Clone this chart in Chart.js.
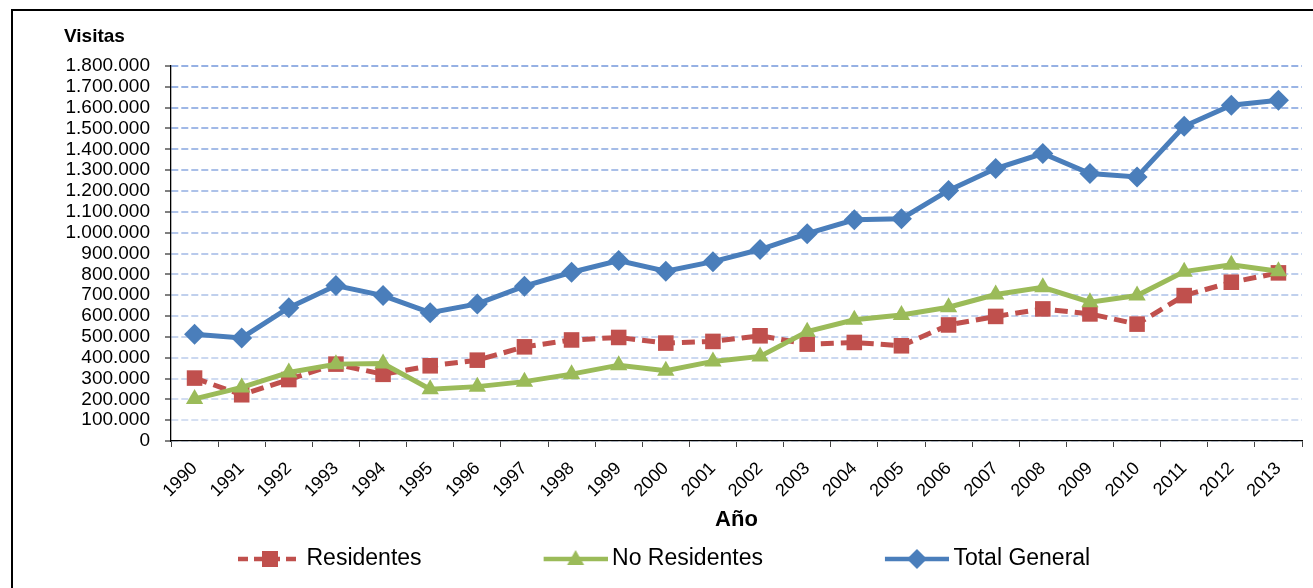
<!DOCTYPE html>
<html>
<head>
<meta charset="utf-8">
<script src="https://cdn.jsdelivr.net/npm/chart.js@4"></script>
<style>
  html, body { margin: 0; padding: 0; background: #fff; }
  #frame {
    position: absolute; left: 11px; top: 9px;
    border-left: 2px solid #000; border-top: 2px solid #000;
    width: 1300px; height: 577px;
  }
  canvas { display: block; }
</style>
</head>
<body>
<div id="frame"><canvas id="chart" width="1300" height="577"></canvas></div>
<script>
const years = ['1990', '1991', '1992', '1993', '1994', '1995', '1996', '1997', '1998', '1999', '2000', '2001',
  '2002', '2003', '2004', '2005', '2006', '2007', '2008', '2009', '2010', '2011', '2012', '2013'];

const residentes = [302000, 222000, 295000, 369000, 320000, 361000, 388000, 452000, 485000, 497000, 470000, 478000,
  505000, 465000, 473000, 457000, 557000, 598000, 634000, 610000, 561000, 698000, 762000, 807000];

const noResidentes = [202000, 257000, 329000, 369000, 372000, 249000, 261000, 285000, 321000, 364000, 337000, 382000,
  406000, 525000, 582000, 605000, 642000, 703000, 738000, 666000, 698000, 813000, 846000, 815000];

const totalGeneral = [512000, 495000, 640000, 746000, 698000, 616000, 658000, 743000, 810000, 866000, 815000, 861000,
  919000, 995000, 1062000, 1067000, 1203000, 1308000, 1380000, 1284000, 1267000, 1511000, 1612000, 1636000];

const yMax = 1800000;
const yStep = 100000;

const RED = '#c0504d';
const GREEN = '#9bbb59';
const BLUE = '#4a7ebb';

// thousands separator with dots
const fmt = v => String(v).replace(/\B(?=(\d{3})+(?!\d))/g, '.');

// gridlines fade from dark blue at the top to pale at the bottom
const gridColor = (ctx) => {
  const t = ctx.tick ? ctx.tick.value / yMax : 0;
  const lo = [218, 227, 243], hi = [150, 177, 228];
  const c = lo.map((l, i) => Math.round(l + (hi[i] - l) * t));
  return 'rgb(' + c.join(',') + ')';
};

// legend sample: line + marker, drawn at the right end of a wide transparent canvas
const legendSample = (color, dash, marker) => {
  const w = 187, h = 26;
  const c = document.createElement('canvas');
  c.width = w; c.height = h;
  const g = c.getContext('2d');
  const x0 = w - 64, x1 = w, cy = h / 2, cx = x0 + 32;
  g.strokeStyle = color;
  g.lineWidth = 4.5;
  g.setLineDash(dash);
  g.beginPath(); g.moveTo(x0, cy); g.lineTo(x1, cy); g.stroke();
  g.setLineDash([]);
  g.fillStyle = color;
  g.beginPath();
  if (marker === 'rect') {
    g.rect(cx - 8, cy - 8, 16, 16);
  } else if (marker === 'triangle') {
    g.moveTo(cx, cy - 9); g.lineTo(cx + 8.5, cy + 6); g.lineTo(cx - 8.5, cy + 6); g.closePath();
  } else {
    g.moveTo(cx, cy - 10); g.lineTo(cx + 10, cy); g.lineTo(cx, cy + 10); g.lineTo(cx - 10, cy); g.closePath();
  }
  g.fill();
  return c;
};

const samples = [
  legendSample(RED, [10, 6], 'rect'),
  legendSample(GREEN, [], 'triangle'),
  legendSample(BLUE, [], 'rectRot')
];

// nudge the legend row to the right, where the original has it
const legendShift = {
  id: 'legendShift',
  afterLayout(chart) {
    chart.legend.left += 52;
    chart.legend.right += 52;
  }
};

Chart.defaults.font.family = '"Liberation Sans", Arial, sans-serif';
Chart.defaults.color = '#000';

new Chart(document.getElementById('chart').getContext('2d'), {
  type: 'line',
  data: {
    labels: years,
    datasets: [{
      label: 'Residentes',
      data: residentes,
      borderColor: RED,
      backgroundColor: RED,
      borderWidth: 5,
      borderDash: [13, 7],
      pointStyle: 'rect',
      pointRadius: 11,
      pointBorderWidth: 0,
      order: 3
    }, {
      label: 'No Residentes',
      data: noResidentes,
      borderColor: GREEN,
      backgroundColor: GREEN,
      borderWidth: 5,
      pointStyle: 'triangle',
      pointRadius: 10,
      pointBorderWidth: 0,
      order: 2
    }, {
      label: 'Total General',
      data: totalGeneral,
      borderColor: BLUE,
      backgroundColor: BLUE,
      borderWidth: 5,
      pointStyle: 'rectRot',
      pointRadius: 10.5,
      pointBorderWidth: 0,
      order: 1
    }]
  },
  options: {
    responsive: false,
    animation: false,
    layout: { padding: { left: 51, right: 8, top: 0, bottom: 7.5 } },
    elements: { line: { tension: 0 } },
    plugins: {
      title: {
        display: true,
        text: 'Visitas',
        align: 'start',
        font: { size: 19, weight: 'bold' },
        padding: { top: 14.6, bottom: 17.6 }
      },
      legend: {
        position: 'bottom',
        align: 'start',
        labels: {
          usePointStyle: true,
          pointStyleWidth: 173,
          padding: 6,
          font: { size: 23 },
          generateLabels: (chart) => chart.data.datasets.map((ds, i) => ({
            text: ds.label,
            pointStyle: samples[i],
            fillStyle: ds.borderColor,
            strokeStyle: ds.borderColor,
            lineWidth: 0,
            hidden: false,
            datasetIndex: i
          }))
        }
      },
      tooltip: { enabled: false }
    },
    scales: {
      x: {
        offset: true,
        grid: {
          offset: true,
          drawOnChartArea: false,
          drawTicks: true,
          tickLength: 6,
          tickColor: '#444',
          tickWidth: 1
        },
        border: { color: '#000', width: 1.3 },
        ticks: {
          autoSkip: false,
          minRotation: 45,
          maxRotation: 45,
          padding: 11,
          font: { size: 18 }
        },
        title: {
          display: true,
          text: 'Año',
          font: { size: 22, weight: 'bold' },
          padding: { top: 4, bottom: 8 }
        },
        afterFit: (scale) => { scale.height = 100.5; }
      },
      y: {
        min: 0,
        max: yMax,
        grid: {
          color: gridColor,
          lineWidth: 2,
          tickLength: 6,
          tickColor: '#000',
          tickWidth: 1,
          tickBorderDash: []
        },
        border: { color: '#000', width: 1.3, dash: [7, 3] },
        ticks: {
          autoSkip: false,
          stepSize: yStep,
          padding: 15,
          font: { size: 19 },
          callback: (v) => fmt(v)
        },
        afterFit: (scale) => { scale.width = 107; }
      }
    }
  },
  plugins: [legendShift]
});
</script>
</body>
</html>
